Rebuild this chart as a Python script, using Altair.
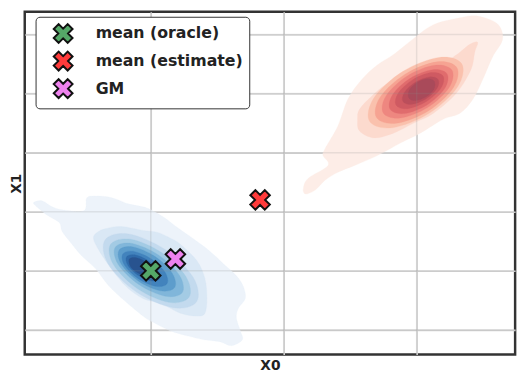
import altair as alt
import pandas as pd

# ---------------- data (plot units) ----------------
x_ticks = [0, 135, 270]
y_ticks = [0, 60, 120, 180, 240, 300]

point_labels = ["mean (oracle)", "mean (estimate)", "GM"]
point_x = [0, 111, 25]
point_y = [60, 132, 72]
point_colors = ["#55a868", "#ff3b3b", "#ee82ee"]

# blue density contours, outer -> inner
blue_l1 = [(-118, 130), (-110, 131), (-100, 125), (-90, 122), (-68, 121), (-65, 134), (-56, 136),
           (-43, 135), (-33, 132), (-23, 128), (-8, 125), (0, 122), (14, 114), (27, 104), (44, 92),
           (60, 80), (74, 67), (87, 55), (94, 44), (96, 32), (89, 22), (87, 12), (91, -1), (93, -10),
           (82, -16), (70, -12), (54, -10), (37, -6), (20, -1), (0, 9), (-8, 14), (-26, 29), (-43, 45),
           (-56, 62), (-70, 75), (-80, 87), (-90, 100), (-93, 109), (-106, 117), (-118, 127)]
blue_l2 = [(-58, 95), (-53, 100), (-45, 103), (-30, 105), (-8, 101), (7, 99), (20, 93), (30, 87),
           (47, 70), (55, 52), (57, 32), (55, 17), (47, 14), (30, 17), (10, 27), (-8, 32), (-26, 45),
           (-45, 69), (-56, 87)]
blue_l3 = [(46.5, 28.6), (43.2, 53.1), (14.6, 81.6), (-22.6, 97.5), (-46.5, 91.4), (-43.2, 66.9), (-14.6, 38.4), (22.6, 22.5)]
blue_l4 = [(38.8, 33.1), (35.8, 53.9), (11.3, 78.3), (-20.4, 92.0), (-40.8, 86.9), (-37.8, 66.1), (-13.3, 41.7), (18.4, 28.0)]
blue_l5 = [(32.0, 38.0), (29.2, 55.3), (8.1, 75.9), (-18.9, 87.8), (-36.0, 84.0), (-33.2, 66.7), (-12.1, 46.1), (14.9, 34.2)]
blue_l6 = [(24.2, 43.0), (21.9, 57.4), (4.4, 74.5), (-18.0, 84.3), (-32.2, 81.0), (-29.9, 66.6), (-12.4, 49.5), (10.0, 39.7)]
blue_l7 = [(16.4, 46.9), (14.6, 58.4), (0.7, 72.0), (-17.1, 79.7), (-28.4, 77.1), (-26.6, 65.6), (-12.7, 52.0), (5.1, 44.3)]
blue_l8 = [(8.6, 51.8), (7.3, 60.4), (-3.0, 70.5), (-16.2, 76.2), (-24.6, 74.2), (-23.3, 65.6), (-13.0, 55.5), (0.2, 49.8)]
blue_l9 = [(2.0, 56.0), (0.5, 63.5), (-6.6, 70.0), (-15.7, 73.5), (-22.0, 71.7), (-20.5, 64.2), (-13.4, 58.0), (-4.3, 54.5)]
blue_colors = ["#edf3fa", "#dae8f5", "#c3daee", "#a3cbe4", "#80b6da", "#5d9dcc", "#4283bd", "#2f6aa9", "#28538f"]

# red density contours, outer -> inner
red_l1 = [(155, 144), (160, 154), (180, 167), (175, 177), (177, 184), (190, 207), (200, 234), (214, 254),
          (230, 269), (247, 280), (267, 296), (287, 310), (314, 317), (330, 319), (347, 314), (355, 307),
          (357, 294), (347, 277), (337, 254), (327, 234), (314, 220), (297, 214), (274, 200), (254, 190),
          (230, 177), (207, 167), (190, 160), (177, 152), (167, 142), (157, 138)]
red_l2 = [(210, 214), (212, 224), (224, 237), (240, 250), (264, 260), (287, 269), (307, 277), (324, 290),
          (332, 292), (329, 282), (325, 264), (310, 240), (287, 220), (267, 210), (247, 200), (227, 195), (212, 202)]
red_l3 = [(315.8, 270.2), (292.7, 276.7), (255.7, 262.3), (226.5, 235.4), (222.2, 211.8), (245.3, 205.3), (282.3, 219.7), (311.5, 246.6)]
red_l4 = [(310.8, 266.4), (290.6, 272.2), (258.3, 259.7), (232.9, 236.3), (229.2, 215.6), (249.4, 209.8), (281.7, 222.3), (307.1, 245.7)]
red_l5 = [(305.9, 263.7), (288.5, 268.8), (260.9, 258.2), (239.2, 238.1), (236.1, 220.3), (253.5, 215.2), (281.1, 225.8), (302.8, 245.9)]
red_l6 = [(300.9, 260.0), (286.4, 264.3), (263.5, 255.6), (245.6, 238.9), (243.1, 224.0), (257.6, 219.7), (280.5, 228.4), (298.4, 245.1)]
red_l7 = [(296.8, 257.8), (284.9, 261.3), (266.1, 254.1), (251.3, 240.4), (249.2, 228.2), (261.1, 224.7), (279.9, 231.9), (294.7, 245.6)]
red_l8 = [(291.9, 254.1), (282.9, 256.9), (268.7, 251.5), (257.6, 241.2), (256.1, 231.9), (265.1, 229.1), (279.3, 234.5), (290.4, 244.8)]
red_l9 = [(287.9, 252.4), (281.3, 255.0), (270.8, 251.5), (262.5, 243.5), (262.1, 235.6), (268.7, 233.0), (279.2, 236.5), (287.5, 244.5)]
red_colors = ["#fdede7", "#fcdace", "#fac1ad", "#f6a392", "#ee8780", "#e06c6d", "#cf5a62", "#bb4e5b", "#a94a5a"]

# ---------------- chart ----------------
XPATH = ("M0.955,-0.46L0.495,0L0.955,0.46L0.46,0.955L0,0.495L-0.46,0.955L-0.955,0.46"
         "L-0.495,0L-0.955,-0.46L-0.46,-0.955L0,-0.495L0.46,-0.955Z")

FONT = "DejaVu Sans"

xs = alt.Scale(domain=[-128, 370], nice=False, zero=False)
ys = alt.Scale(domain=[-25, 323], nice=False, zero=False)
xaxis = alt.Axis(title="X0", values=x_ticks, titlePadding=4)
yaxis = alt.Axis(title="X1", values=y_ticks, titlePadding=1)


def X(f):
    return alt.X(f, type="quantitative", scale=xs, axis=xaxis)


def Y(f):
    return alt.Y(f, type="quantitative", scale=ys, axis=yaxis)


def poly(pts, color):
    df = pd.DataFrame({"x": [p[0] for p in pts], "y": [p[1] for p in pts],
                       "o": list(range(len(pts)))})
    return alt.Chart(df).mark_line(
        interpolate="cardinal-closed", fill=color, stroke=color, strokeWidth=0.3, clip=True
    ).encode(x=X("x"), y=Y("y"), order=alt.Order("o:Q"))


layers = []
for pts, c in zip([blue_l1, blue_l2, blue_l3, blue_l4, blue_l5, blue_l6, blue_l7, blue_l8, blue_l9], blue_colors):
    layers.append(poly(pts, c))
for pts, c in zip([red_l1, red_l2, red_l3, red_l4, red_l5, red_l6, red_l7, red_l8, red_l9], red_colors):
    layers.append(poly(pts, c))

# faint grid showing through the filled contours
vrules = alt.Chart(pd.DataFrame({"v": x_ticks})).mark_rule(
    color="#888888", opacity=0.18, strokeWidth=1.5).encode(x=X("v"))
hrules = alt.Chart(pd.DataFrame({"h": y_ticks})).mark_rule(
    color="#888888", opacity=0.18, strokeWidth=1.5).encode(y=Y("h"))
layers += [vrules, hrules]

pts_df = pd.DataFrame({"label": point_labels, "x": point_x, "y": point_y, "o": [0, 1, 2]})
points = alt.Chart(pts_df).mark_point(
    shape=XPATH, filled=True, size=430, stroke="#111111", strokeWidth=2, opacity=1
).encode(
    x=X("x"), y=Y("y"),
    order=alt.Order("o:Q"),
    color=alt.Color(
        "label:N",
        scale=alt.Scale(domain=point_labels, range=point_colors),
        sort=point_labels,
        legend=alt.Legend(
            title=None, orient="none", legendX=11, legendY=5,
            symbolType=XPATH, symbolSize=400, symbolStrokeColor="#111111", symbolStrokeWidth=2,
            symbolOpacity=1,
            labelFont=FONT, labelFontSize=16, labelFontWeight="bold", labelColor="#222222",
            labelLimit=400, padding=6, rowPadding=0, symbolOffset=11, labelOffset=22,
            strokeColor="#333333", fillColor="white", cornerRadius=4,
        ),
    ),
)
layers.append(points)

chart = alt.layer(*layers).properties(
    width=498, height=348,
    autosize=alt.AutoSizeParams(type="none"),
    padding={"left": 17, "top": 1, "right": 8, "bottom": 25},
    background="white",
).configure_view(
    stroke="#333333", strokeWidth=2.5
).configure_axis(
    grid=True, gridColor="#d4d4d4", gridWidth=1.6, ticks=False, labels=False, domain=False,
    titleFont=FONT, titleFontSize=14, titleFontWeight="bold", titleColor="#222222",
)

chart.save("out.html", embed_options={"renderer": "svg", "actions": False})
